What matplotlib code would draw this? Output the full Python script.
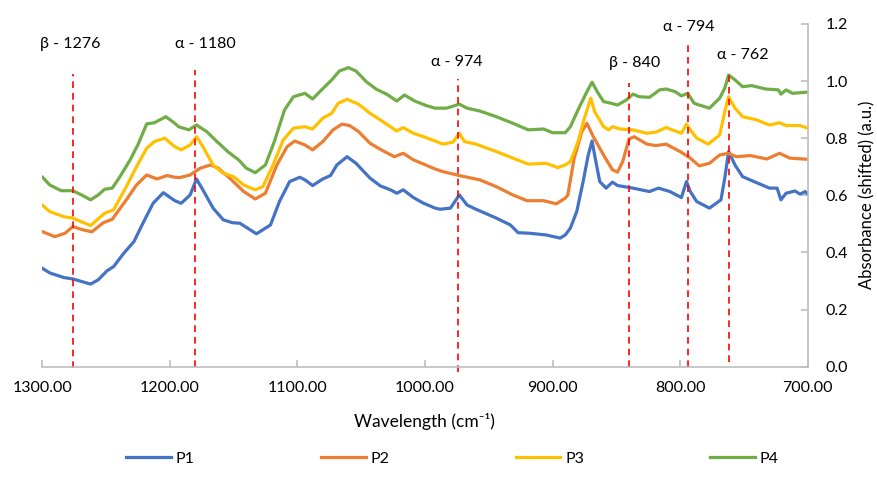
import matplotlib
matplotlib.use("Agg")
import matplotlib.pyplot as plt
from matplotlib.lines import Line2D

plt.rcParams['font.family'] = ['Lato', 'DejaVu Sans']

# spectra (wavenumber, shifted absorbance)
p1_wn = [1300, 1294, 1283, 1276, 1262, 1256, 1249, 1244, 1236, 1228, 1221, 1213, 1205, 1196,
         1191, 1184, 1179, 1174, 1166, 1158, 1151, 1145, 1132, 1121, 1114, 1106, 1098, 1094,
         1088, 1080, 1074, 1069, 1061, 1054, 1043, 1035, 1027, 1022, 1017, 1009, 1001, 992,
         988, 980, 973, 967, 960, 944, 933, 927, 918, 905, 894, 890, 886, 881, 876, 872, 869,
         867, 863, 858, 853, 849, 837, 824, 817, 808, 799, 795, 792, 787, 777, 768, 765, 762,
         757, 751, 740, 730, 724, 721, 717, 710, 706, 702, 700]
p1_abs = [0.345, 0.328, 0.312, 0.307, 0.289, 0.304, 0.336, 0.350, 0.397, 0.438, 0.502, 0.572,
          0.609, 0.581, 0.572, 0.601, 0.657, 0.619, 0.555, 0.514, 0.504, 0.502, 0.465, 0.496,
          0.578, 0.648, 0.663, 0.654, 0.634, 0.657, 0.669, 0.706, 0.735, 0.712, 0.660, 0.633,
          0.619, 0.607, 0.619, 0.592, 0.572, 0.555, 0.551, 0.555, 0.601, 0.566, 0.551, 0.520,
          0.496, 0.469, 0.467, 0.461, 0.450, 0.461, 0.485, 0.543, 0.648, 0.741, 0.790, 0.741,
          0.648, 0.625, 0.646, 0.634, 0.625, 0.613, 0.625, 0.613, 0.592, 0.648, 0.613, 0.578,
          0.555, 0.584, 0.660, 0.753, 0.706, 0.665, 0.644, 0.625, 0.625, 0.584, 0.607, 0.615,
          0.604, 0.613, 0.604]

p2_wn = [1300, 1290, 1282, 1276, 1268, 1261, 1252, 1245, 1234, 1226, 1218, 1210, 1202, 1196,
         1192, 1184, 1176, 1168, 1162, 1153, 1142, 1133, 1125, 1116, 1108, 1102, 1094, 1088,
         1080, 1072, 1065, 1059, 1052, 1043, 1035, 1024, 1017, 1009, 1001, 992, 986, 973, 957,
         944, 931, 920, 907, 897, 890, 888, 883, 877, 873, 868, 860, 853, 849, 845, 840, 836,
         826, 819, 811, 800, 792, 785, 777, 769, 762, 756, 745, 732, 722, 714, 700]
p2_abs = [0.473, 0.455, 0.467, 0.490, 0.479, 0.472, 0.504, 0.516, 0.584, 0.636, 0.671, 0.657,
          0.669, 0.663, 0.662, 0.671, 0.695, 0.706, 0.695, 0.660, 0.613, 0.587, 0.607, 0.706,
          0.770, 0.790, 0.776, 0.759, 0.788, 0.829, 0.849, 0.844, 0.823, 0.782, 0.761, 0.735,
          0.747, 0.724, 0.709, 0.692, 0.683, 0.669, 0.654, 0.630, 0.601, 0.581, 0.581, 0.570,
          0.590, 0.601, 0.730, 0.823, 0.852, 0.805, 0.741, 0.689, 0.681, 0.718, 0.797, 0.805,
          0.779, 0.774, 0.779, 0.753, 0.730, 0.703, 0.712, 0.741, 0.747, 0.735, 0.739, 0.727,
          0.747, 0.730, 0.726]

p3_wn = [1300, 1294, 1283, 1276, 1262, 1251, 1244, 1234, 1226, 1218, 1212, 1204, 1196, 1191,
         1184, 1179, 1174, 1166, 1158, 1150, 1142, 1133, 1127, 1119, 1111, 1103, 1094, 1088,
         1080, 1073, 1068, 1061, 1052, 1043, 1035, 1027, 1022, 1017, 1009, 1001, 992, 986, 978,
         973, 969, 960, 944, 931, 919, 905, 896, 890, 886, 880, 875, 870, 867, 860, 856, 853,
         847, 837, 826, 819, 811, 799, 795, 791, 787, 778, 769, 765, 762, 757, 751, 740, 730,
         722, 717, 706, 700]
p3_abs = [0.566, 0.543, 0.525, 0.520, 0.494, 0.537, 0.549, 0.630, 0.700, 0.765, 0.788, 0.800,
          0.770, 0.759, 0.776, 0.805, 0.770, 0.706, 0.677, 0.665, 0.636, 0.619, 0.630, 0.706,
          0.794, 0.835, 0.840, 0.832, 0.870, 0.887, 0.922, 0.936, 0.919, 0.887, 0.864, 0.840,
          0.825, 0.837, 0.817, 0.805, 0.790, 0.779, 0.786, 0.817, 0.788, 0.779, 0.753, 0.730,
          0.709, 0.712, 0.697, 0.706, 0.718, 0.788, 0.870, 0.940, 0.893, 0.840, 0.829, 0.840,
          0.832, 0.829, 0.817, 0.821, 0.837, 0.817, 0.849, 0.823, 0.800, 0.779, 0.811, 0.893,
          0.945, 0.905, 0.875, 0.864, 0.846, 0.854, 0.844, 0.844, 0.835]

p4_wn = [1300, 1294, 1285, 1276, 1269, 1262, 1256, 1251, 1245, 1239, 1231, 1225, 1218, 1212,
         1203, 1196, 1193, 1185, 1179, 1171, 1163, 1154, 1146, 1140, 1133, 1125, 1118, 1110,
         1103, 1094, 1088, 1081, 1073, 1067, 1060, 1054, 1046, 1038, 1030, 1022, 1016, 1008,
         999, 992, 983, 973, 967, 957, 944, 931, 919, 907, 900, 890, 886, 880, 873, 869, 865,
         860, 854, 849, 842, 837, 832, 824, 816, 811, 804, 799, 794, 789, 785, 777, 769, 765,
         762, 757, 751, 744, 733, 723, 721, 717, 712, 700]
p4_abs = [0.665, 0.636, 0.616, 0.616, 0.601, 0.584, 0.601, 0.621, 0.625, 0.665, 0.724, 0.776,
          0.850, 0.854, 0.875, 0.852, 0.840, 0.829, 0.846, 0.823, 0.788, 0.751, 0.724, 0.695,
          0.679, 0.706, 0.788, 0.899, 0.945, 0.957, 0.937, 0.969, 1.004, 1.035, 1.047, 1.035,
          0.998, 0.971, 0.954, 0.930, 0.951, 0.930, 0.914, 0.905, 0.905, 0.919, 0.905, 0.895,
          0.875, 0.852, 0.829, 0.832, 0.819, 0.819, 0.840, 0.899, 0.963, 0.996, 0.963, 0.928,
          0.922, 0.916, 0.934, 0.954, 0.945, 0.943, 0.969, 0.972, 0.963, 0.948, 0.957, 0.922,
          0.916, 0.905, 0.940, 0.975, 1.021, 1.004, 0.980, 0.984, 0.972, 0.969, 0.954, 0.969,
          0.957, 0.961]

series = [("P1", p1_wn, p1_abs, "#4472C4"),
          ("P2", p2_wn, p2_abs, "#ED7D31"),
          ("P3", p3_wn, p3_abs, "#FFC000"),
          ("P4", p4_wn, p4_abs, "#70AD47")]

# band markers: position, label, dashed line extent, label anchor
band_pos = [1276, 1180, 974, 840, 794, 762]
band_lbl = ["β - 1276", "α - 1180", "α - 974", "β - 840", "α - 794", "α - 762"]
band_top = [1.025, 1.039, 1.007, 0.993, 1.133, 1.035]
band_bot = [-0.005, 0.0, -0.02, 0.0, 0.0, 0.015]
lbl_x = [1278, 1172, 975, 836, 793, 751]
lbl_y = [1.13, 1.13, 1.067, 1.063, 1.189, 1.091]

fig = plt.figure(figsize=(8.77, 4.78), dpi=100)
ax = fig.add_axes([0.048, 0.233, 0.873, 0.717])

for name, wn, ab, col in series:
    ax.plot(wn, ab, color=col, lw=2.3, solid_joinstyle='round', solid_capstyle='round', label=name)

for x, lb, t, b, tx, ty in zip(band_pos, band_lbl, band_top, band_bot, lbl_x, lbl_y):
    ax.plot([x, x], [b, t], color='red', lw=1.2, ls=(0, (4, 3)), clip_on=False)
    ax.text(tx, ty, lb, ha='center', va='center', fontsize=11.5)

ax.set_xlim(1300, 700)
ax.set_ylim(0, 1.2)
ax.set_xticks([1300, 1200, 1100, 1000, 900, 800, 700])
ax.set_xticklabels(["%.2f" % v for v in [1300, 1200, 1100, 1000, 900, 800, 700]])
ax.set_yticks([0, 0.2, 0.4, 0.6, 0.8, 1.0, 1.2])
ax.set_yticklabels(["%.1f" % v for v in [0, 0.2, 0.4, 0.6, 0.8, 1.0, 1.2]])
ax.yaxis.tick_right()
ax.yaxis.set_label_position('right')

for s in ['left', 'top']:
    ax.spines[s].set_visible(False)
for s in ['right', 'bottom']:
    ax.spines[s].set_color('#BFBFBF')
    ax.spines[s].set_linewidth(1.2)
ax.tick_params(axis='both', direction='in', length=5, width=1.2, color='#BFBFBF',
               labelsize=11.5, labelcolor='#000000')
ax.tick_params(axis='x', pad=10)
ax.tick_params(axis='y', pad=13)

ax.set_xlabel('Wavelength (cm⁻¹)', fontsize=12.5, labelpad=13)
ax.set_ylabel('Absorbance (shifted) (a.u.)', fontsize=12, labelpad=8)

handles = [Line2D([], [], color=c, lw=2.3) for _, _, _, c in series]
fig.legend(handles, [s[0] for s in series], loc='lower center', bbox_to_anchor=(0.516, -0.005),
           ncol=4, frameon=False, fontsize=11.5, handlelength=2.8, handletextpad=0.3,
           columnspacing=7.9)

fig.savefig('out.png', dpi=100)
